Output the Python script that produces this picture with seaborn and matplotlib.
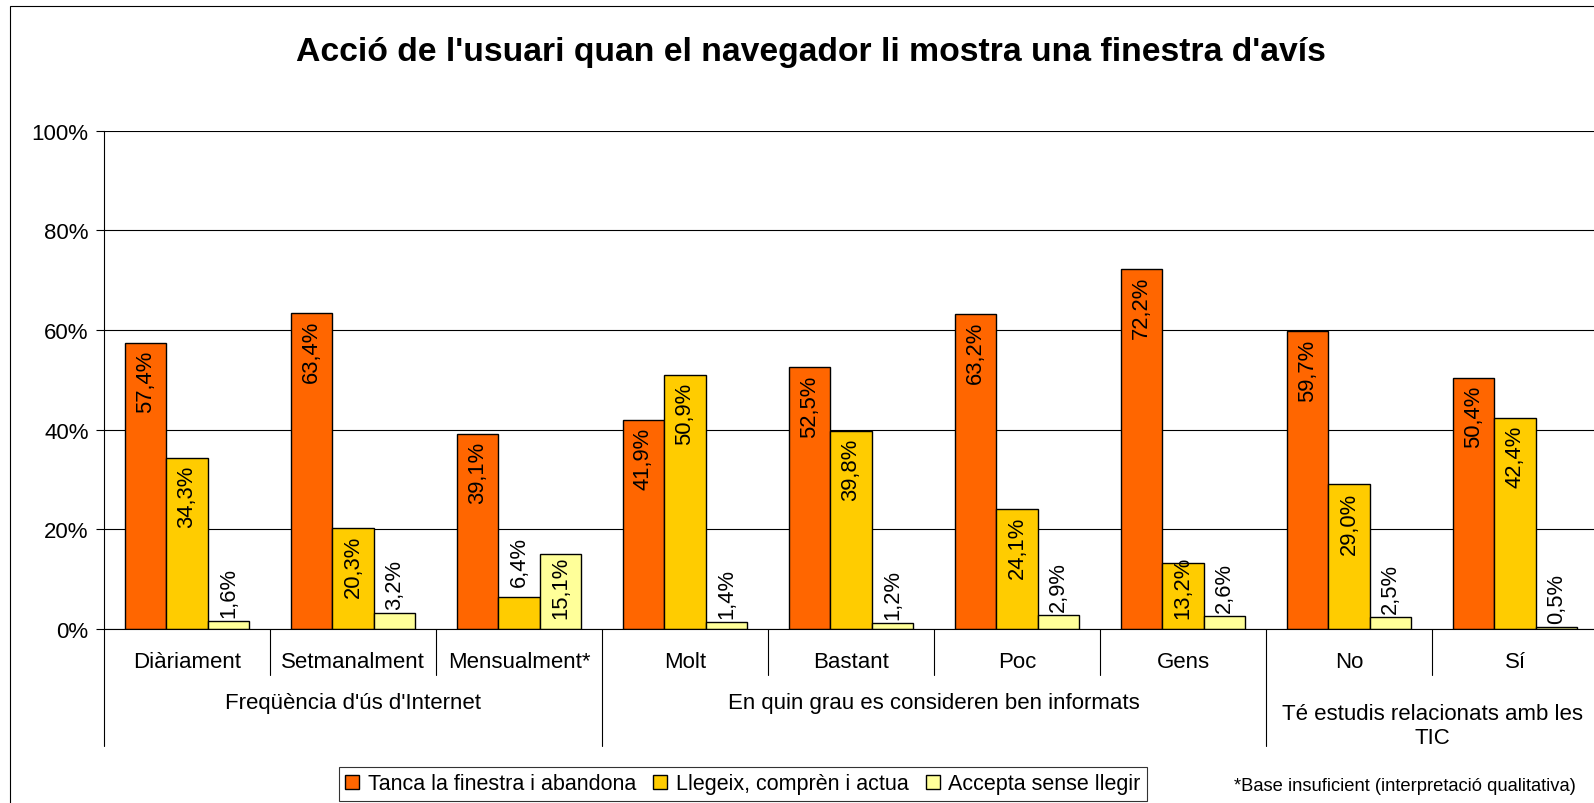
import matplotlib
matplotlib.use("Agg")
import pandas as pd
import matplotlib.pyplot as plt
import matplotlib.transforms as mtransforms
from matplotlib.patches import Patch, Rectangle
import seaborn as sns

# data
categories = ["Diàriament", "Setmanalment", "Mensualment*", "Molt", "Bastant",
              "Poc", "Gens", "No", "Sí"]
groups = ["Freqüència d'ús d'Internet",
          "En quin grau es consideren ben informats",
          "Té estudis relacionats amb les\nTIC"]
group_sizes = [3, 4, 2]
series = ["Tanca la finestra i abandona", "Llegeix, comprèn i actua", "Accepta sense llegir"]
tanca = [57.4, 63.4, 39.1, 41.9, 52.5, 63.2, 72.2, 59.7, 50.4]
llegeix = [34.3, 20.3, 6.4, 50.9, 39.8, 24.1, 13.2, 29.0, 42.4]
accepta = [1.6, 3.2, 15.1, 1.4, 1.2, 2.9, 2.6, 2.5, 0.5]
colors = ["#FF6600", "#FFCC00", "#FFFF99"]

df = pd.DataFrame({
    "cat": categories * 3,
    "serie": [series[0]] * 9 + [series[1]] * 9 + [series[2]] * 9,
    "val": tanca + llegeix + accepta,
})

sns.set_style("white")
plt.rcParams["font.family"] = ["Liberation Sans", "DejaVu Sans"]
plt.rcParams["text.color"] = "black"
plt.rcParams["ytick.color"] = "black"
plt.rcParams["xtick.color"] = "black"

fig = plt.figure(figsize=(15.94, 8.04), dpi=100)
W, H = 1594, 804
ax_left, ax_right, ax_top, ax_bot = 104, 1598, 131.5, 630
ax = fig.add_axes([ax_left / W, 1 - ax_bot / H, (ax_right - ax_left) / W, (ax_bot - ax_top) / H])

sns.barplot(data=df, x="cat", y="val", hue="serie", order=categories, hue_order=series,
            palette=colors, saturation=1, width=0.75, edgecolor="black", linewidth=1,
            legend=False, ax=ax)

ax.set_xlim(-0.5, 8.5)
ax.set_ylim(0, 100)
ax.set_yticks([0, 20, 40, 60, 80, 100])
ax.set_yticklabels(["0%", "20%", "40%", "60%", "80%", "100%"], fontsize=16)
ax.yaxis.grid(True, color="black", linewidth=0.8)
ax.set_axisbelow(True)
ax.set_xticks([])
ax.set_xlabel("")
ax.set_ylabel("")
ax.tick_params(axis="y", length=6, width=0.8, color="black", labelcolor="black", left=True, pad=5)
for s in ["top", "right"]:
    ax.spines[s].set_visible(False)
for s in ["left", "bottom"]:
    ax.spines[s].set_color("black")
    ax.spines[s].set_linewidth(0.8)

# data labels
fig.canvas.draw()
r = fig.canvas.get_renderer()
ax_h = ax_bot - ax_top
for cont in ax.containers:
    for bar in cont:
        v = bar.get_height()
        x = bar.get_x() + bar.get_width() / 2
        lbl = f"{v:.1f}%".replace(".", ",")
        t = ax.text(x, v, lbl, rotation=90, ha="center", va="top", fontsize=15.8, color="black")
        th = t.get_window_extent(r).height
        bar_px = v / 100 * ax_h
        if bar_px >= th + 14:
            t.set_transform(mtransforms.offset_copy(ax.transData, fig=fig, y=-7, units="dots"))
        elif bar_px >= th * 0.9:
            t.set_va("bottom")
            t.set_y(0)
            t.set_transform(mtransforms.offset_copy(ax.transData, fig=fig, y=11, units="dots"))
        else:
            t.set_va("bottom")
            off = 11 if bar_px > 20 else 4
            t.set_transform(mtransforms.offset_copy(ax.transData, fig=fig, y=off, units="dots"))

# multi-level category axis
tr = mtransforms.blended_transform_factory(ax.transData, ax.transAxes)
short = -(676 - ax_bot) / ax_h
long_ = -(747 - ax_bot) / ax_h
for i, c in enumerate(categories):
    ax.text(i, -(662 - ax_bot) / ax_h, c, transform=tr, ha="center", va="center", fontsize=16)
start = 0
edges = [-0.5]
for g, n in zip(groups, group_sizes):
    mid = start + (n - 1) / 2
    if "\n" in g:
        ax.text(mid, -(704 - ax_bot) / ax_h, g, transform=tr, ha="center", va="top",
                fontsize=16, linespacing=1.2, ma="center")
    else:
        ax.text(mid, -(704 - ax_bot) / ax_h, g, transform=tr, ha="center", va="center", fontsize=16)
    for k in range(1, n):
        ax.plot([start + k - 0.5] * 2, [0, short], transform=tr, color="black", lw=0.8, clip_on=False)
    start += n
    edges.append(start - 0.5)
for e in edges:
    ax.plot([e, e], [0, long_], transform=tr, color="black", lw=0.8, clip_on=False)

# title, legend, note, frame
fig.text(811 / W, 1 - 53 / H, "Acció de l'usuari quan el navegador li mostra una finestra d'avís",
         ha="center", va="center", fontsize=24.3, fontweight="bold")

handles = [Patch(facecolor=c, edgecolor="black", linewidth=1) for c in colors]
leg = fig.legend(handles, series, loc="center", bbox_to_anchor=(743 / W, 1 - 785 / H), ncol=3,
                 fontsize=15.5, frameon=True, fancybox=False, edgecolor="black",
                 handlelength=0.65, handleheight=0.65, handletextpad=0.4, columnspacing=0.8,
                 borderpad=0.3, borderaxespad=0)
leg.get_frame().set_linewidth(0.8)

fig.text(1576 / W, 1 - 787 / H, "*Base insuficient (interpretació qualitativa)",
         ha="right", va="center", fontsize=13.2)

fig.patches.append(Rectangle((9.5 / W, -0.05), 1.1, 1 - 6.5 / H + 0.05, transform=fig.transFigure,
                             fill=False, edgecolor="black", linewidth=0.8))

fig.savefig("out.png", dpi=100)
